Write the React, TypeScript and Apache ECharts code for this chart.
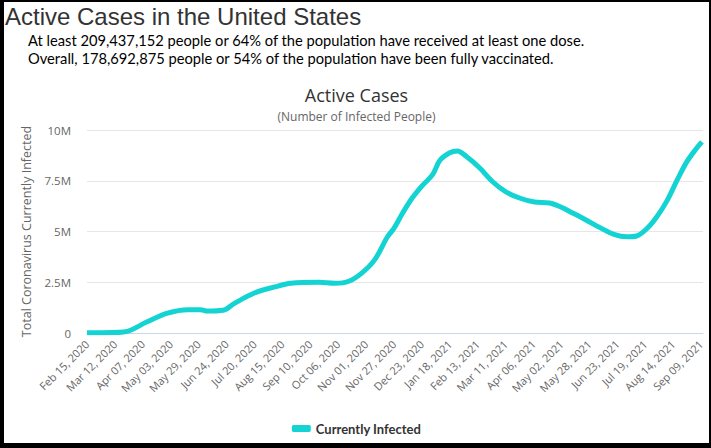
import React, { useEffect, useRef } from "react";
import * as echarts from "echarts";

const pageTitle = "Active Cases in the United States";
const infoLines = [
  "At least 209,437,152 people or 64% of the population have received at least one dose.",
  "Overall, 178,692,875 people or 54% of the population have been fully vaccinated.",
];
const chartTitle = "Active Cases";
const chartSubtitle = "(Number of Infected People)";
const yAxisName = "Total Coronavirus Currently Infected";
const seriesName = "Currently Infected";

const dates = [
  "2020-02-15", "2020-03-10", "2020-03-20", "2020-03-26", "2020-04-11", "2020-04-30",
  "2020-05-19", "2020-05-31", "2020-06-06", "2020-06-21", "2020-07-01", "2020-07-20",
  "2020-08-08", "2020-08-23", "2020-09-18", "2020-10-03", "2020-10-16", "2020-10-28",
  "2020-11-09", "2020-11-21", "2020-11-27", "2020-12-05", "2020-12-14", "2020-12-23",
  "2021-01-02", "2021-01-09", "2021-01-18", "2021-01-25", "2021-02-02", "2021-02-15",
  "2021-02-27", "2021-03-11", "2021-03-24", "2021-04-07", "2021-04-21", "2021-05-01",
  "2021-05-13", "2021-05-25", "2021-06-07", "2021-06-20", "2021-07-02", "2021-07-11",
  "2021-07-21", "2021-07-30", "2021-08-08", "2021-08-18", "2021-08-27", "2021-09-05",
  "2021-09-10",
];
const activeCases = [
  10000, 20000, 50000, 120000, 550000, 980000,
  1150000, 1150000, 1080000, 1120000, 1450000, 1970000,
  2270000, 2450000, 2500000, 2450000, 2550000, 2950000,
  3600000, 4740000, 5150000, 5900000, 6650000, 7240000,
  7800000, 8520000, 8880000, 8970000, 8720000, 8130000,
  7450000, 6960000, 6650000, 6450000, 6400000, 6220000,
  5900000, 5570000, 5190000, 4860000, 4740000, 4780000,
  5160000, 5730000, 6470000, 7540000, 8440000, 9100000,
  9420000,
];
const tickDates = [
  "2020-02-15", "2020-03-12", "2020-04-07", "2020-05-03", "2020-05-29", "2020-06-24",
  "2020-07-20", "2020-08-15", "2020-09-10", "2020-10-06", "2020-11-01", "2020-11-27",
  "2020-12-23", "2021-01-18", "2021-02-13", "2021-03-11", "2021-04-06", "2021-05-02",
  "2021-05-28", "2021-06-23", "2021-07-19", "2021-08-14", "2021-09-09",
];
const axisStart = "2020-02-15";
const axisEnd = "2021-09-11";

const monthNames = ["Jan", "Feb", "Mar", "Apr", "May", "Jun", "Jul", "Aug", "Sep", "Oct", "Nov", "Dec"];

function ts(s: string): number {
  const [y, m, d] = s.split("-").map(Number);
  return Date.UTC(y, m - 1, d);
}
function fmtDate(v: number): string {
  const d = new Date(v);
  const dd = String(d.getUTCDate()).padStart(2, "0");
  return `${monthNames[d.getUTCMonth()]} ${dd}, ${d.getUTCFullYear()}`;
}

const LINE_COLOR = "#14d3d3";

export default function App() {
  const ref = useRef<HTMLDivElement>(null);
  useEffect(() => {
    if (!ref.current) return;
    const chart = echarts.init(ref.current, undefined, { renderer: "svg" });
    const option: any = {
      animation: false,
      backgroundColor: "#ffffff",
      textStyle: { fontFamily: "Open Sans" },
      graphic: [
        {
          type: "text",
          left: 1,
          top: 2,
          style: {
            text: pageTitle,
            font: "24px 'Liberation Sans'",
            fill: "#333333",
          },
        },
        {
          type: "text",
          left: 24,
          top: 30,
          style: {
            text: infoLines[0],
            font: "14.7px Lato",
            fill: "#000000",
          },
        },
        {
          type: "text",
          left: 24,
          top: 48,
          style: {
            text: infoLines[1],
            font: "14.7px Lato",
            fill: "#000000",
          },
        },
      ],
      title: {
        text: chartTitle,
        subtext: chartSubtitle,
        left: "center",
        top: 79,
        itemGap: 6,
        textStyle: { fontFamily: "Open Sans", fontSize: 18, fontWeight: "normal", color: "#333333" },
        subtextStyle: { fontFamily: "Open Sans", fontSize: 12, color: "#666666" },
      },
      legend: {
        bottom: 3,
        left: "center",
        icon: "roundRect",
        itemWidth: 19,
        itemHeight: 7,
        itemGap: 4,
        textStyle: { fontFamily: "Lato", fontWeight: "bold", fontSize: 13, color: "#333333" },
        data: [seriesName],
      },
      grid: { left: 83, right: 6, top: 128, bottom: 110, containLabel: false },
      xAxis: {
        type: "value",
        min: ts(axisStart),
        max: ts(axisEnd),
        axisLine: { show: true, lineStyle: { color: "#ccd6eb" } },
        axisTick: { show: false },
        splitLine: { show: false },
        axisLabel: {
          rotate: 45,
          margin: 9,
          color: "#666666",
          fontSize: 11,
          fontFamily: "Open Sans",
          customValues: tickDates.map(ts),
          formatter: (v: number) => fmtDate(v),
          hideOverlap: false,
        },
      },
      yAxis: {
        type: "value",
        min: 0,
        max: 10000000,
        interval: 2500000,
        name: yAxisName,
        nameLocation: "middle",
        nameGap: 54,
        nameTextStyle: { fontFamily: "Open Sans", fontSize: 12.5, color: "#666666" },
        axisLine: { show: false },
        axisTick: { show: false },
        splitLine: { lineStyle: { color: "#e6e6e6" } },
        axisLabel: {
          margin: 16,
          color: "#666666",
          fontSize: 11.5,
          fontFamily: "Open Sans",
          formatter: (v: number) => (v === 0 ? "0" : `${v / 1000000}M`),
        },
      },
      series: [
        {
          name: seriesName,
          type: "line",
          data: dates.map((d, i) => [ts(d), activeCases[i]]),
          smooth: 0.35,
          showSymbol: false,
          symbol: "circle",
          lineStyle: { color: LINE_COLOR, width: 5 },
          itemStyle: { color: LINE_COLOR },
        },
      ],
    };
    chart.setOption(option);
    return () => chart.dispose();
  }, []);
  return (
    <div style={{ position: "fixed", left: 0, top: 0, width: 711, height: 448, background: "#000" }}>
      <div
        ref={ref}
        style={{ position: "absolute", left: 4, top: 2, width: 705, height: 441, background: "#fff" }}
      />
    </div>
  );
}
